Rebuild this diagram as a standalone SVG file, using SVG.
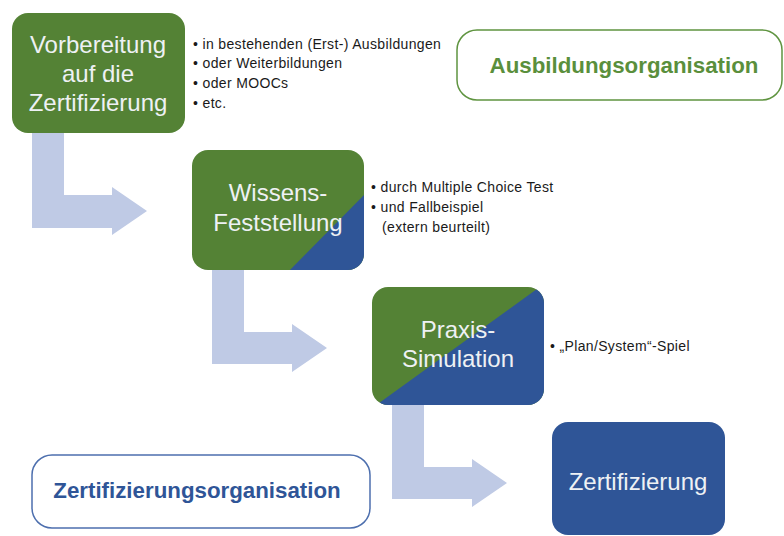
<svg xmlns="http://www.w3.org/2000/svg" width="784" height="536" viewBox="0 0 784 536">
  <defs>
    <style>
      .step { font-family: "Liberation Sans", Arial, sans-serif; font-size: 24px; fill: #eef1f4; text-anchor: middle; }
      .note { font-family: "Liberation Sans", Arial, sans-serif; font-size: 14px; letter-spacing: 0.35px; fill: #1a1a1a; }
      .org  { font-family: "Liberation Sans", Arial, sans-serif; font-size: 22.3px; font-weight: bold; text-anchor: middle; }
      .flow { fill: #bfcae5; }
      .green { fill: #548235; }
      .blue { fill: #2f5597; }
    </style>
    <clipPath id="clip-wissen"><rect x="192" y="150" width="172" height="120" rx="16"/></clipPath>
    <clipPath id="clip-praxis"><rect x="372" y="287" width="172" height="118" rx="16"/></clipPath>
  </defs>

  <!-- bent flow arrows between the steps -->
  <g id="connectors">
    <polygon class="flow" points="32,133 64,133 64,195 112,195 112,187 147,211 112,235 112,228 32,228"/>
    <polygon class="flow" points="212,270 244,270 244,332 292,332 292,324 327,348 292,372 292,364 212,364"/>
    <polygon class="flow" points="392,405 424,405 424,467 472,467 472,459 507,483 472,507 472,499 392,499"/>
  </g>

  <!-- step 1 -->
  <g id="vorbereitung">
    <rect class="green" x="12" y="13" width="173" height="120" rx="16"/>
    <text class="step" x="98" y="53">Vorbereitung</text>
    <text class="step" x="98" y="82">auf die</text>
    <text class="step" x="98" y="111">Zertifizierung</text>
  </g>
  <g id="vorbereitung-notes" class="note">
    <text x="193" y="49">• in bestehenden (Erst-) Ausbildungen</text>
    <text x="193" y="68">• oder Weiterbildungen</text>
    <text x="193" y="88">• oder MOOCs</text>
    <text x="193" y="108">• etc.</text>
  </g>

  <!-- step 2 -->
  <g id="wissensfeststellung">
    <g clip-path="url(#clip-wissen)">
      <rect class="green" x="192" y="150" width="172" height="120"/>
      <polygon class="blue" points="285,275 370,189 370,275"/>
    </g>
    <text class="step" x="278" y="201">Wissens-</text>
    <text class="step" x="278" y="231">Feststellung</text>
  </g>
  <g id="wissensfeststellung-notes" class="note">
    <text x="371" y="192">• durch Multiple Choice Test</text>
    <text x="371" y="212">• und Fallbeispiel</text>
    <text x="382" y="232">(extern beurteilt)</text>
  </g>

  <!-- step 3 -->
  <g id="praxissimulation">
    <g clip-path="url(#clip-praxis)">
      <rect class="green" x="372" y="287" width="172" height="118"/>
      <polygon class="blue" points="368,411 548,281 548,410 368,410"/>
    </g>
    <text class="step" x="458" y="338">Praxis-</text>
    <text class="step" x="458" y="367">Simulation</text>
  </g>
  <g id="praxissimulation-notes" class="note">
    <text x="550" y="351">• „Plan/System“-Spiel</text>
  </g>

  <!-- step 4 -->
  <g id="zertifizierung">
    <rect class="blue" x="552" y="422" width="173" height="113" rx="16"/>
    <text class="step" x="638" y="490">Zertifizierung</text>
  </g>

  <!-- organisation labels -->
  <g id="ausbildungsorganisation">
    <rect x="457" y="30" width="325" height="70" rx="20" fill="#ffffff" stroke="#5f9440" stroke-width="1.5"/>
    <text class="org" x="624" y="73" fill="#5a8f3c">Ausbildungsorganisation</text>
  </g>
  <g id="zertifizierungsorganisation">
    <rect x="32" y="455" width="338" height="73" rx="20" fill="#ffffff" stroke="#4d6fae" stroke-width="1.5"/>
    <text class="org" x="197" y="498" fill="#2f5597">Zertifizierungsorganisation</text>
  </g>
</svg>
